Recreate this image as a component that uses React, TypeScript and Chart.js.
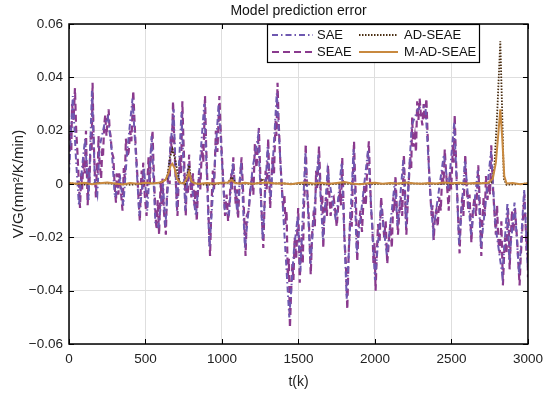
import React, { useEffect, useRef } from 'react';
import { Chart, registerables } from 'chart.js';
Chart.register(...registerables);

const FONT = '"Liberation Sans", Arial, Helvetica, sans-serif';

const titleText = 'Model prediction error';
const xTitle = 't(k)';
const yTitle = 'V/G(mm\u00B2/K/min)';
const xTicks = [0, 500, 1000, 1500, 2000, 2500, 3000];
const yTicks = [-0.06, -0.04, -0.02, 0, 0.02, 0.04, 0.06];
const seriesNames = ['SAE', 'SEAE', 'AD-SEAE', 'M-AD-SEAE'];

const tSEAE = [
  0, 10, 15, 20, 30, 39, 47, 55, 63, 72,
  80, 86, 95, 103, 111, 116, 122, 130, 134, 142,
  148, 154, 160, 165, 170, 176, 183, 188, 193, 200,
  210, 218, 222, 230, 237, 245, 252, 259, 266, 272,
  280, 290, 298, 307, 312, 318, 323, 328, 338, 350,
  358, 365, 372, 380, 390, 400, 408, 420, 428, 435,
  442, 448, 455, 463, 470, 475, 480, 485, 495, 507,
  513, 520, 528, 538, 546, 552, 560, 566, 572, 580,
  589, 595, 600, 605, 611, 620, 633, 640, 650, 658,
  665, 672, 680, 688, 695, 702, 709, 716, 725, 732,
  741, 747, 752, 758, 763, 770, 777, 785, 792, 800,
  810, 820, 828, 835, 842, 850, 858, 870, 878, 889,
  896, 905, 912, 922, 930, 940, 948, 960, 970, 983,
  990, 1000, 1010, 1020, 1030, 1040, 1050, 1060, 1066, 1074,
  1082, 1090, 1097, 1105, 1115, 1128, 1134, 1140, 1146, 1154,
  1162, 1175, 1185, 1195, 1205, 1215, 1225, 1233, 1241, 1248,
  1255, 1262, 1270, 1278, 1285, 1292, 1302, 1308, 1315, 1322,
  1330, 1340, 1350, 1356, 1363, 1370, 1380, 1390, 1400, 1408,
  1415, 1422, 1430, 1437, 1444, 1452, 1460, 1467, 1475, 1485,
  1498, 1503, 1508, 1514, 1520, 1528, 1536, 1541, 1547, 1555,
  1565, 1572, 1580, 1590, 1600, 1607, 1615, 1622, 1634, 1642,
  1650, 1656, 1662, 1670, 1680, 1686, 1693, 1700, 1710, 1720,
  1730, 1740, 1750, 1760, 1770, 1778, 1786, 1793, 1800, 1810,
  1819, 1828, 1840, 1848, 1855, 1863, 1869, 1875, 1884, 1893,
  1905, 1915, 1930, 1940, 1950, 1960, 1967, 1975, 1983, 1990,
  1997, 2004, 2012, 2020, 2030, 2040, 2050, 2060, 2070, 2080,
  2090, 2100, 2110, 2120, 2127, 2134, 2142, 2150, 2160, 2170,
  2178, 2189, 2197, 2205, 2212, 2220, 2230, 2237, 2243, 2250,
  2260, 2268, 2276, 2284, 2292, 2300, 2310, 2318, 2325, 2336,
  2343, 2350, 2356, 2362, 2370, 2376, 2384, 2392, 2400, 2410,
  2420, 2430, 2440, 2448, 2456, 2465, 2475, 2482, 2490, 2498,
  2510, 2515, 2521, 2528, 2535, 2543, 2553, 2561, 2570, 2578,
  2590, 2598, 2610, 2618, 2630, 2640, 2650, 2660, 2675, 2684,
  2695, 2702, 2710, 2718, 2725, 2735, 2745, 2752, 2760, 2768,
  2775, 2782, 2790, 2798, 2805, 2815, 2826, 2836, 2843, 2850,
  2860, 2869, 2875, 2880, 2888, 2895, 2905, 2915, 2930, 2945,
  2952, 2960, 2968, 2977, 2984, 2990, 2996, 3000,
];
const vSEAE = [
  0.008, 0.022, 0.012, 0.030, 0.024, 0.036, 0.020, 0.012, 0.002, -0.009,
  0.004, -0.002, 0.010, 0.004, 0.020, 0.006, -0.008, 0.006, 0.000, 0.018,
  0.012, 0.038, 0.020, 0.010, 0.002, -0.005, 0.008, 0.004, 0.018, 0.008,
  0.002, 0.014, 0.010, 0.022, 0.026, 0.018, 0.024, 0.028, 0.020, 0.018,
  0.012, 0.010, 0.000, -0.007, 0.004, 0.002, -0.004, 0.004, -0.002, -0.010,
  0.006, 0.002, 0.017, 0.010, 0.012, 0.020, 0.016, 0.035, 0.024, 0.015,
  0.008, 0.002, -0.006, -0.014, 0.000, 0.005, -0.002, 0.008, -0.004, -0.012,
  0.002, 0.010, 0.000, 0.014, 0.020, 0.008, -0.004, -0.012, -0.017, -0.006,
  -0.019, -0.006, 0.001, -0.008, 0.002, -0.010, -0.019, -0.004, 0.005, 0.000,
  0.018, 0.012, 0.031, 0.016, 0.005, -0.004, -0.012, 0.000, 0.010, 0.004,
  0.031, 0.018, 0.010, 0.000, -0.012, 0.002, -0.004, 0.011, 0.002, -0.005,
  0.004, -0.008, -0.002, -0.014, -0.004, 0.005, -0.002, 0.015, 0.008, 0.033,
  0.015, 0.000, -0.012, -0.027, -0.010, 0.005, -0.002, 0.020, 0.012, 0.033,
  0.022, 0.010, 0.000, -0.012, -0.004, -0.014, -0.006, 0.004, -0.002, 0.010,
  0.000, -0.008, -0.002, -0.013, 0.000, 0.010, 0.002, -0.005, -0.014, -0.027,
  -0.012, -0.010, -0.002, 0.002, -0.004, 0.015, 0.006, 0.012, 0.021, 0.008,
  -0.005, -0.014, -0.024, -0.008, 0.005, -0.002, 0.017, 0.004, -0.009, 0.000,
  0.010, 0.004, 0.024, 0.018, 0.038, 0.024, 0.010, 0.000, -0.009, -0.004,
  -0.015, -0.010, -0.035, -0.028, -0.054, -0.040, -0.030, -0.036, -0.020, -0.028,
  -0.009, -0.020, -0.037, -0.026, -0.020, -0.030, -0.008, -0.002, 0.015, 0.000,
  -0.010, -0.020, -0.034, -0.018, -0.010, -0.016, 0.005, -0.002, 0.014, 0.002,
  -0.010, -0.004, -0.024, -0.010, -0.005, -0.012, 0.007, -0.002, -0.012, -0.006,
  -0.005, -0.010, -0.016, -0.008, -0.002, -0.008, 0.010, -0.004, -0.020, -0.030,
  -0.047, -0.026, -0.010, -0.016, 0.002, 0.016, 0.004, -0.005, -0.029, -0.016,
  -0.010, -0.018, 0.000, -0.008, 0.008, 0.016, 0.002, -0.010, -0.016, -0.030,
  -0.022, -0.040, -0.026, -0.015, -0.022, -0.005, -0.012, -0.020, -0.014, -0.030,
  -0.022, -0.015, -0.024, -0.005, -0.010, 0.003, -0.008, -0.019, -0.010, -0.005,
  -0.012, 0.011, -0.004, -0.019, -0.010, 0.000, 0.010, 0.006, 0.025, 0.014,
  0.018, 0.012, 0.031, 0.024, 0.032, 0.026, 0.022, 0.030, 0.024, 0.032,
  0.020, 0.010, 0.002, -0.004, -0.012, -0.008, -0.021, -0.012, -0.010, -0.016,
  -0.005, -0.010, 0.005, 0.000, 0.013, 0.004, -0.004, -0.010, 0.005, -0.002,
  0.015, 0.008, 0.026, 0.012, 0.000, -0.012, -0.026, -0.012, -0.005, -0.012,
  0.011, 0.000, -0.010, -0.004, -0.022, -0.010, -0.005, -0.012, 0.007, -0.006,
  -0.027, -0.014, -0.005, -0.012, 0.003, -0.006, 0.000, -0.004, 0.0145, 0.002,
  -0.005, -0.012, -0.019, -0.008, -0.020, -0.026, -0.014, -0.038, -0.028, -0.020,
  -0.026, -0.009, -0.016, -0.032, -0.020, -0.010, -0.018, -0.009, -0.022, -0.038,
  -0.028, -0.020, -0.012, -0.004, -0.014, -0.025, -0.018, -0.035,
];

const tSAE = [0, 25, 45, 65, 85, 105, 128, 150, 170, 185, 200, 230, 255, 280, 300, 335, 355, 380, 415, 440, 460, 490, 512, 540, 565, 585, 615, 630, 660, 684, 705, 735, 760, 780, 830, 884, 918, 978, 1018, 1045, 1070, 1100, 1125, 1150, 1200, 1236, 1266, 1298, 1318, 1358, 1395, 1440, 1470, 1495, 1512, 1545, 1578, 1630, 1660, 1690, 1745, 1782, 1815, 1860, 1880, 1955, 2000, 2040, 2078, 2130, 2148, 2185, 2203, 2240, 2280, 2300, 2330, 2360, 2380, 2450, 2480, 2518, 2550, 2588, 2628, 2672, 2692, 2758, 2788, 2832, 2866, 2878, 2912, 2942, 2975, 2998];
const vSAE = [0.004, 0.033, 0.010, -0.008, 0.006, 0.017, -0.006, 0.035, 0.000, -0.004, 0.014, 0.022, 0.025, 0.012, -0.005, 0.002, -0.008, 0.012, 0.032, 0.008, -0.012, 0.006, -0.010, 0.018, -0.015, -0.016, 0.000, -0.016, 0.012, 0.028, -0.010, 0.027, -0.010, 0.008, -0.012, 0.030, -0.024, 0.030, -0.010, -0.012, 0.008, -0.011, 0.008, -0.024, 0.006, 0.018, -0.021, 0.014, -0.006, 0.034, -0.006, -0.050, -0.025, -0.012, -0.033, 0.012, -0.030, 0.011, -0.021, 0.005, -0.014, 0.008, -0.043, 0.013, -0.026, 0.013, -0.036, -0.008, -0.027, 0.001, -0.016, 0.009, -0.016, 0.022, 0.028, 0.029, 0.029, -0.002, -0.018, 0.011, -0.002, 0.023, -0.023, 0.009, -0.019, 0.005, -0.024, 0.012, -0.016, -0.034, -0.007, -0.029, -0.007, -0.034, -0.002, -0.031];

const tAD = [0, 100, 200, 300, 400, 500, 600, 640, 660, 676, 695, 720, 760, 775, 785, 800, 830, 900, 1000, 1040, 1063, 1090, 1200, 1250, 1262, 1280, 1400, 1600, 1800, 2000, 2200, 2400, 2600, 2700, 2760, 2780, 2800, 2819, 2830, 2842, 2860, 2950, 3000];
const vAD = [0.0003, -0.0002, 0.0004, 0.0001, -0.0003, 0.0002, 0.0004, 0.002, 0.010, 0.013, 0.009, 0.001, 0.000, 0.004, 0.007, 0.001, 0.0002, -0.0003, 0.0002, 0.0005, 0.0026, 0.0004, 0, 0.0005, 0.002, 0.0003, 0.0002, -0.0002, 0.0001, 0, 0.0002, 0, 0.0001, 0.0003, 0.0005, 0.006, 0.028, 0.0535, 0.030, 0.002, -0.0003, 0, 0.0002];

const tMAD = [0, 50, 100, 150, 200, 250, 300, 350, 400, 450, 500, 550, 600, 630, 650, 665, 676, 690, 705, 725, 750, 770, 785, 800, 820, 850, 900, 950, 1000, 1040, 1063, 1085, 1120, 1150, 1200, 1250, 1300, 1350, 1400, 1450, 1500, 1550, 1600, 1650, 1700, 1750, 1800, 1850, 1900, 1950, 2000, 2050, 2100, 2150, 2200, 2250, 2300, 2350, 2400, 2450, 2500, 2550, 2600, 2650, 2700, 2740, 2770, 2790, 2805, 2819, 2832, 2845, 2860, 2900, 2950, 3000];
const vMAD = [0.0004, 0.0001, 0.0005, -0.0001, 0.0003, 0.0006, 0.0002, -0.0002, 0.0004, 0.0001, 0.0005, 0.0002, 0.0006, 0.0015, 0.004, 0.007, 0.0076, 0.006, 0.002, 0.0004, 0.0002, 0.002, 0.0045, 0.001, 0.0003, 0.0001, 0.0004, 0.0002, 0.0005, 0.0006, 0.0015, 0.0004, 0.0002, 0.0005, 0.0001, 0.0004, 0.0006, 0.0002, 0.0003, -0.0001, 0.0004, 0.0006, 0.0002, 0.0005, 0.0001, 0.0004, 0.0007, 0.0002, -0.0001, 0.0003, 0.0005, 0.0001, 0.0004, 0.0002, 0.0006, 0.0003, 0.0001, 0.0004, 0.0002, 0.0006, 0.0003, 0.0005, 0.0002, 0.0004, 0.0003, 0.0005, 0.002, 0.008, 0.018, 0.028, 0.017, 0.003, 0.0002, 0.0004, -0.0001, 0.0003];

const COLORS = ['#6E58B0', '#8A3A8E', '#4A2E12', '#C8893F'];
const DASHES: number[][] = [[6, 3, 1.5, 3], [7, 4], [1.5, 1.5], []];
const WIDTHS = [2, 2.2, 1.8, 2];

const zip = (t: number[], v: number[]) => {
  const n = Math.min(t.length, v.length);
  const out: { x: number; y: number }[] = [];
  for (let i = 0; i < n; i++) out.push({ x: t[i], y: v[i] });
  return out;
};

const fmtY = (v: number) => {
  if (Math.abs(v) < 1e-9) return '0';
  return (v < 0 ? '\u2212' : '') + Math.abs(v).toFixed(2);
};

const framePlugin = {
  id: 'frameDecor',
  afterDraw(chart: any) {
    const { ctx, chartArea: a, scales } = chart;
    ctx.save();
    ctx.strokeStyle = '#000';
    ctx.lineWidth = 1;
    const L = 5;
    ctx.beginPath();
    xTicks.forEach((v) => {
      const px = Math.round(scales.x.getPixelForValue(v)) + 0.5;
      ctx.moveTo(px, a.bottom); ctx.lineTo(px, a.bottom - L);
      ctx.moveTo(px, a.top); ctx.lineTo(px, a.top + L);
    });
    yTicks.forEach((v) => {
      const py = Math.round(scales.y.getPixelForValue(v)) + 0.5;
      ctx.moveTo(a.left, py); ctx.lineTo(a.left + L, py);
      ctx.moveTo(a.right, py); ctx.lineTo(a.right - L, py);
    });
    ctx.stroke();
    ctx.lineWidth = 1.5;
    ctx.strokeRect(a.left, a.top, a.right - a.left, a.bottom - a.top);
    ctx.fillStyle = '#111';
    ctx.font = `14px ${FONT}`;
    ctx.textAlign = 'center';
    ctx.textBaseline = 'middle';
    ctx.fillText(titleText, (a.left + a.right) / 2, 11);
    const bx = 267, by = a.top, bw = 212, bh = 38;
    ctx.fillStyle = '#fff';
    ctx.fillRect(bx, by, bw, bh);
    ctx.lineWidth = 1.2;
    ctx.strokeStyle = '#000';
    ctx.strokeRect(bx + 0.5, by + 0.5, bw, bh);
    const rows = [by + 11, by + 28];
    const cols = [{ l0: 272, l1: 313, tx: 317 }, { l0: 359, l1: 398, tx: 404 }];
    const order = [[0, 0], [1, 0], [0, 1], [1, 1]];
    ctx.font = `13px ${FONT}`;
    ctx.textAlign = 'left';
    seriesNames.forEach((name, i) => {
      const [r, c] = order[i];
      const y = rows[r];
      const col = cols[c];
      ctx.beginPath();
      ctx.setLineDash(DASHES[i]);
      ctx.strokeStyle = COLORS[i];
      ctx.lineWidth = WIDTHS[i];
      ctx.moveTo(col.l0, y); ctx.lineTo(col.l1, y);
      ctx.stroke();
      ctx.setLineDash([]);
      ctx.fillStyle = '#111';
      ctx.fillText(name, col.tx, y + 0.5);
    });
    ctx.restore();
  },
};

export default function App() {
  const ref = useRef<HTMLCanvasElement | null>(null);
  useEffect(() => {
    if (!ref.current) return;
    const series = [zip(tSAE, vSAE), zip(tSEAE, vSEAE), zip(tAD, vAD), zip(tMAD, vMAD)];
    const orders = [2, 3, 1, 0];
    const chart = new Chart(ref.current, {
      type: 'line',
      data: {
        datasets: series.map((d, i) => ({
          label: seriesNames[i],
          data: d,
          borderColor: COLORS[i],
          borderWidth: WIDTHS[i],
          borderDash: DASHES[i],
          pointRadius: 0,
          tension: 0,
          fill: false,
          order: orders[i],
        })),
      },
      options: {
        animation: false,
        responsive: true,
        maintainAspectRatio: false,
        layout: { padding: { top: 24, right: 21, left: 0, bottom: 0 } },
        plugins: { legend: { display: false }, title: { display: false }, tooltip: { enabled: false } },
        scales: {
          x: {
            type: 'linear',
            min: 0,
            max: 3000,
            afterBuildTicks: (s: any) => { s.ticks = xTicks.map((v) => ({ value: v })); },
            afterFit: (s: any) => { s.height = 51; },
            grid: { color: '#DEDEDE', lineWidth: 1, drawTicks: false },
            border: { display: false },
            ticks: { color: '#222', font: { family: FONT, size: 13.5 }, padding: 7, maxRotation: 0, autoSkip: false, callback: (v: any) => String(Math.round(Number(v))) },
            title: { display: true, text: xTitle, color: '#222', font: { family: FONT, size: 14 }, padding: { top: 0, bottom: 4 } },
          },
          y: {
            type: 'linear',
            min: -0.06,
            max: 0.06,
            afterBuildTicks: (s: any) => { s.ticks = yTicks.map((v) => ({ value: v })); },
            afterFit: (s: any) => { s.width = 69; },
            grid: { color: '#DEDEDE', lineWidth: 1, drawTicks: false },
            border: { display: false },
            ticks: { color: '#222', font: { family: FONT, size: 13.5 }, padding: 6, callback: (v: any) => fmtY(Number(v)), autoSkip: false },
            title: { display: true, text: yTitle, color: '#222', font: { family: FONT, size: 15 }, padding: { top: 10, bottom: 0 } },
          },
        },
      },
      plugins: [framePlugin],
    } as any);
    return () => chart.destroy();
  }, []);
  return (
    <div style={{ position: 'absolute', left: 0, top: 0, width: 550, height: 395, background: '#fff' }}>
      <canvas ref={ref} />
    </div>
  );
}
